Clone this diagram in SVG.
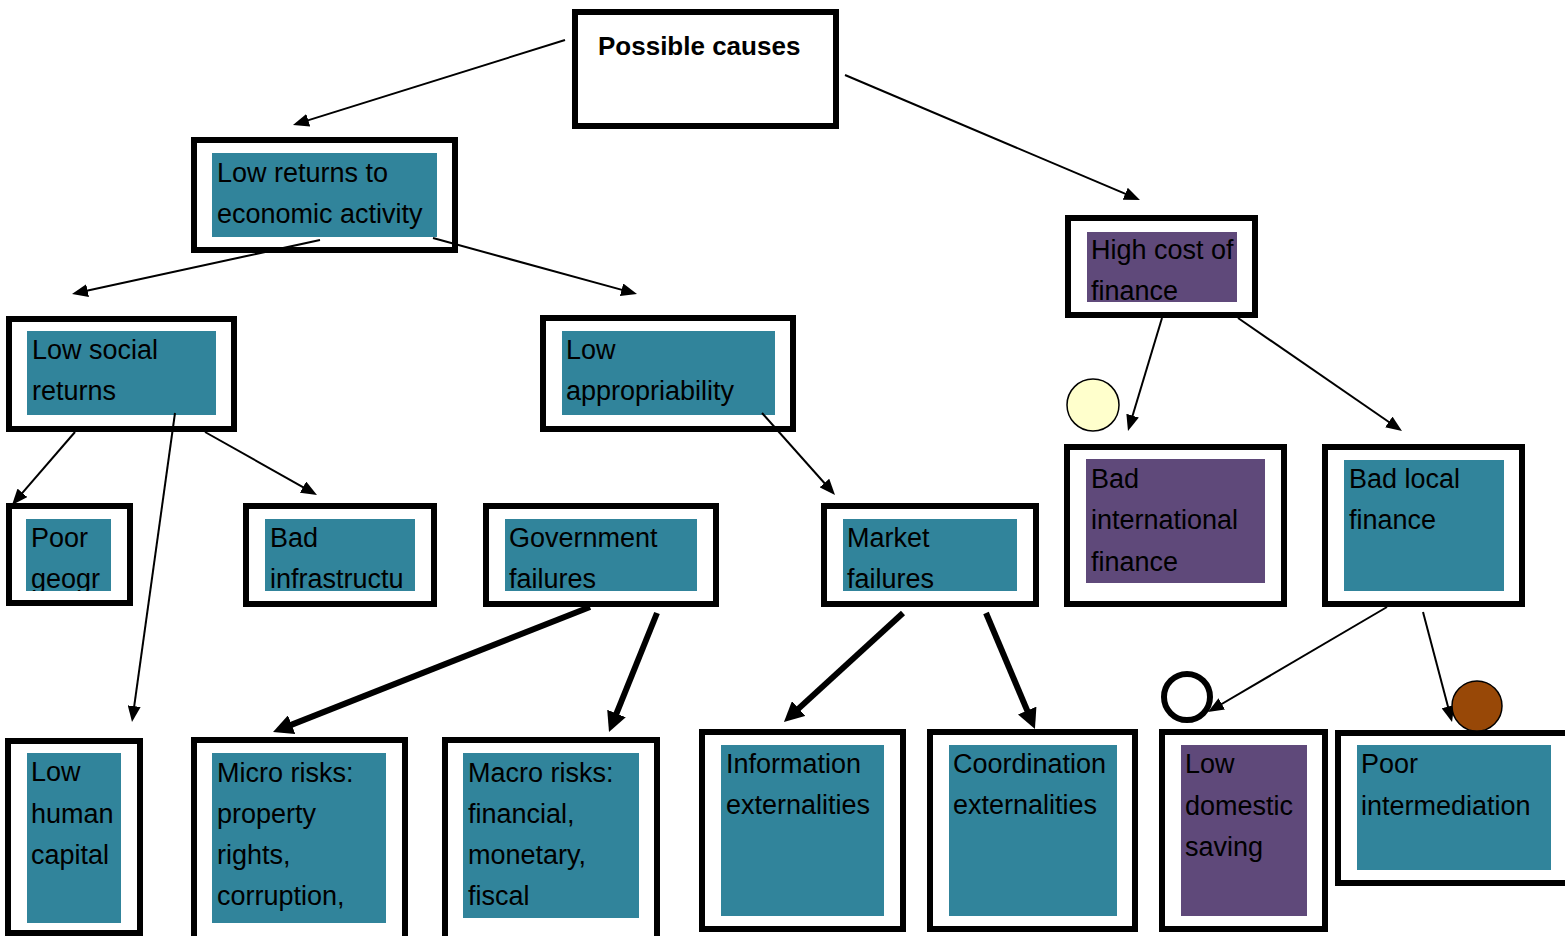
<svg xmlns="http://www.w3.org/2000/svg" width="1565" height="936" viewBox="0 0 1565 936">
  <style>
    .box { fill: #ffffff; stroke: #000000; stroke-width: 6; }
    .teal { fill: #31849B; }
    .purple { fill: #5F497A; }
    .lbl { font-family: "Liberation Sans", Arial, sans-serif; font-size: 27px; fill: #000000; }
    .title { font-family: "Liberation Sans", Arial, sans-serif; font-size: 26px; font-weight: bold; fill: #000000; }
    .thin { stroke: #000000; stroke-width: 2; fill: none; marker-end: url(#arrowThin); }
    .thick { stroke: #000000; stroke-width: 6; fill: none; marker-end: url(#arrowThick); }
  </style>
  <defs>
    <marker id="arrowThin" markerUnits="userSpaceOnUse" markerWidth="16" markerHeight="13" refX="8" refY="6.5" orient="auto">
      <path d="M0,0 L16,6.5 L0,13 z" fill="#000000"/>
    </marker>
    <marker id="arrowThick" markerUnits="userSpaceOnUse" markerWidth="20" markerHeight="20" refX="8" refY="10" orient="auto">
      <path d="M0,0 L20,10 L0,20 z" fill="#000000"/>
    </marker>
    <clipPath id="clipGeogr"><rect x="26" y="519" width="85" height="72"/></clipPath>
    <clipPath id="clipInfra"><rect x="265" y="519" width="150" height="72"/></clipPath>
  </defs>

  <rect width="1565" height="936" fill="#ffffff"/>

  <!-- root -->
  <g id="possible-causes">
    <rect class="box" x="575" y="12" width="261" height="114"/>
    <text class="title" x="598" y="55">Possible causes</text>
  </g>

  <!-- second level -->
  <g id="low-returns">
    <rect class="box" x="194" y="140" width="261" height="110"/>
    <rect class="teal" x="212" y="153" width="225" height="84"/>
    <text class="lbl" x="217" y="182">Low returns to</text>
    <text class="lbl" x="217" y="223">economic activity</text>
  </g>
  <g id="high-cost">
    <rect class="box" x="1068" y="218" width="187" height="97"/>
    <rect class="purple" x="1087" y="232" width="150" height="70"/>
    <text class="lbl" x="1091" y="259">High cost of</text>
    <text class="lbl" x="1091" y="300">finance</text>
  </g>

  <!-- third level -->
  <g id="low-social">
    <rect class="box" x="9" y="319" width="225" height="110"/>
    <rect class="teal" x="27" y="331" width="189" height="84"/>
    <text class="lbl" x="32" y="359">Low social</text>
    <text class="lbl" x="32" y="400">returns</text>
  </g>
  <g id="low-appropriability">
    <rect class="box" x="543" y="318" width="250" height="111"/>
    <rect class="teal" x="562" y="331" width="213" height="84"/>
    <text class="lbl" x="566" y="359">Low</text>
    <text class="lbl" x="566" y="400">appropriability</text>
  </g>
  <g id="bad-international">
    <rect class="box" x="1067" y="447" width="217" height="157"/>
    <rect class="purple" x="1086" y="459" width="179" height="124"/>
    <text class="lbl" x="1091" y="488">Bad</text>
    <text class="lbl" x="1091" y="529">international</text>
    <text class="lbl" x="1091" y="571">finance</text>
  </g>
  <g id="bad-local">
    <rect class="box" x="1325" y="447" width="197" height="157"/>
    <rect class="teal" x="1344" y="460" width="160" height="131"/>
    <text class="lbl" x="1349" y="488">Bad local</text>
    <text class="lbl" x="1349" y="529">finance</text>
  </g>

  <!-- fourth level -->
  <g id="poor-geography">
    <rect class="box" x="9" y="506" width="121" height="97"/>
    <rect class="teal" x="26" y="519" width="85" height="72"/>
    <g clip-path="url(#clipGeogr)">
      <text class="lbl" x="31" y="547">Poor</text>
      <text class="lbl" x="31" y="588">geogr</text>
    </g>
  </g>
  <g id="bad-infrastructure">
    <rect class="box" x="246" y="506" width="188" height="98"/>
    <rect class="teal" x="265" y="519" width="150" height="72"/>
    <g clip-path="url(#clipInfra)">
      <text class="lbl" x="270" y="547">Bad</text>
      <text class="lbl" x="270" y="588">infrastructu</text>
    </g>
  </g>
  <g id="government-failures">
    <rect class="box" x="486" y="506" width="230" height="98"/>
    <rect class="teal" x="505" y="519" width="192" height="72"/>
    <text class="lbl" x="509" y="547">Government</text>
    <text class="lbl" x="509" y="588">failures</text>
  </g>
  <g id="market-failures">
    <rect class="box" x="824" y="506" width="212" height="98"/>
    <rect class="teal" x="843" y="519" width="174" height="72"/>
    <text class="lbl" x="847" y="547">Market</text>
    <text class="lbl" x="847" y="588">failures</text>
  </g>

  <!-- bottom level -->
  <g id="low-human-capital">
    <rect class="box" x="8" y="741" width="132" height="192"/>
    <rect class="teal" x="27" y="753" width="94" height="170"/>
    <text class="lbl" x="31" y="781">Low</text>
    <text class="lbl" x="31" y="823">human</text>
    <text class="lbl" x="31" y="864">capital</text>
  </g>
  <g id="micro-risks">
    <rect class="box" x="194" y="740" width="211" height="210"/>
    <rect class="teal" x="212" y="753" width="174" height="170"/>
    <text class="lbl" x="217" y="782">Micro risks:</text>
    <text class="lbl" x="217" y="823">property</text>
    <text class="lbl" x="217" y="864">rights,</text>
    <text class="lbl" x="217" y="905">corruption,</text>
  </g>
  <g id="macro-risks">
    <rect class="box" x="445" y="740" width="212" height="210"/>
    <rect class="teal" x="463" y="753" width="176" height="165"/>
    <text class="lbl" x="468" y="782">Macro risks:</text>
    <text class="lbl" x="468" y="823">financial,</text>
    <text class="lbl" x="468" y="864">monetary,</text>
    <text class="lbl" x="468" y="905">fiscal</text>
  </g>
  <g id="information-externalities">
    <rect class="box" x="702" y="732" width="201" height="197"/>
    <rect class="teal" x="721" y="745" width="163" height="171"/>
    <text class="lbl" x="726" y="773">Information</text>
    <text class="lbl" x="726" y="814">externalities</text>
  </g>
  <g id="coordination-externalities">
    <rect class="box" x="930" y="732" width="205" height="197"/>
    <rect class="teal" x="949" y="745" width="168" height="171"/>
    <text class="lbl" x="953" y="773">Coordination</text>
    <text class="lbl" x="953" y="814">externalities</text>
  </g>
  <g id="low-domestic-saving">
    <rect class="box" x="1162" y="732" width="163" height="197"/>
    <rect class="purple" x="1181" y="745" width="126" height="171"/>
    <text class="lbl" x="1185" y="773">Low</text>
    <text class="lbl" x="1185" y="815">domestic</text>
    <text class="lbl" x="1185" y="856">saving</text>
  </g>
  <g id="poor-intermediation">
    <rect class="box" x="1338" y="733" width="260" height="150"/>
    <rect class="teal" x="1357" y="745" width="194" height="125"/>
    <text class="lbl" x="1361" y="773">Poor</text>
    <text class="lbl" x="1361" y="815">intermediation</text>
  </g>

  <!-- connectors -->
  <g id="connectors">
    <line class="thin" x1="565" y1="40" x2="300.6" y2="122.6"/>
    <line class="thin" x1="845" y1="75" x2="1132.6" y2="196.9"/>
    <line class="thin" x1="320" y1="240" x2="79.8" y2="292.3"/>
    <line class="thin" x1="433" y1="238" x2="629.3" y2="291.9"/>
    <line class="thin" x1="75" y1="432" x2="17.2" y2="498.9"/>
    <line class="thin" x1="205" y1="432" x2="310" y2="491.1"/>
    <line class="thin" x1="175" y1="413" x2="133.1" y2="714.1"/>
    <line class="thin" x1="762" y1="413" x2="829.7" y2="489"/>
    <line class="thin" x1="1162" y1="318" x2="1130.3" y2="423.3"/>
    <line class="thin" x1="1238" y1="318" x2="1395.4" y2="426.5"/>
    <line class="thick" x1="590" y1="607" x2="284.2" y2="727.6"/>
    <line class="thick" x1="657" y1="613" x2="613.5" y2="720.9"/>
    <line class="thick" x1="903" y1="613" x2="792.8" y2="713.9"/>
    <line class="thick" x1="986" y1="613" x2="1030.3" y2="717.9"/>
    <line class="thin" x1="1387" y1="607" x2="1214.9" y2="708"/>
    <line class="thin" x1="1423" y1="612" x2="1450" y2="714.3"/>
  </g>

  <!-- loose circles -->
  <circle id="circle-yellow" cx="1093" cy="405" r="26" fill="#FFFFCC" stroke="#000000" stroke-width="1.5"/>
  <circle id="circle-ring" cx="1187" cy="697" r="23" fill="#ffffff" stroke="#000000" stroke-width="6"/>
  <circle id="circle-brown" cx="1477" cy="706" r="25" fill="#984807" stroke="#000000" stroke-width="1.5"/>
</svg>
